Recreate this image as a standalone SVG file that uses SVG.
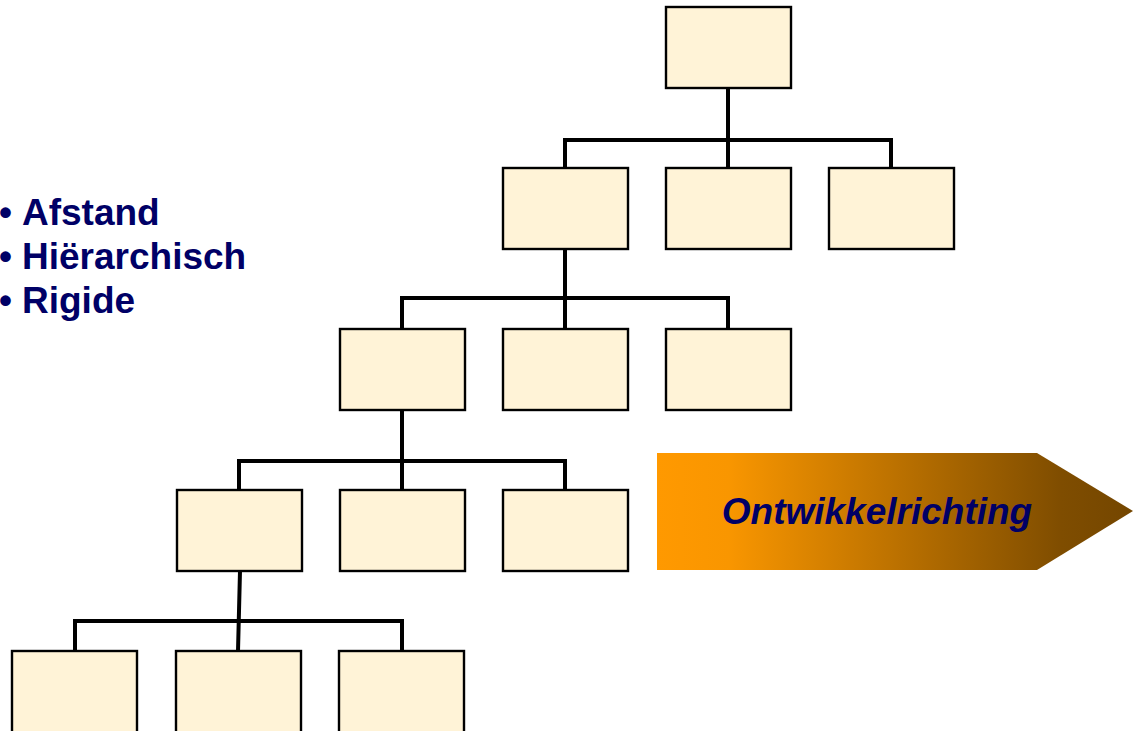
<svg xmlns="http://www.w3.org/2000/svg" width="1133" height="731" viewBox="0 0 1133 731">
<style>
.box{fill:#FFF3D7;stroke:#000;stroke-width:2.4}
.conn{fill:none;stroke:#000;stroke-width:4;stroke-linejoin:miter;stroke-linecap:butt}
.bul{font-family:"Liberation Sans",Arial,sans-serif;font-weight:bold;font-size:37px;fill:#000066}
.arrtxt{font-family:"Liberation Sans",Arial,sans-serif;font-weight:bold;font-style:italic;font-size:37px;fill:#000066}
</style>
<defs>
<linearGradient id="ag" x1="657" y1="0" x2="1133" y2="0" gradientUnits="userSpaceOnUse">
<stop offset="0" stop-color="#FF9900"/>
<stop offset="0.15" stop-color="#F99600"/>
<stop offset="0.85" stop-color="#7F4D00"/>
<stop offset="1" stop-color="#744600"/>
</linearGradient>
</defs>

<g id="connectors">
<path class="conn" d="M728,88 V168 M565,168 V140 H891 V168"/>
<path class="conn" d="M565,249 V329 M402,329 V298 H728 V329"/>
<path class="conn" d="M402,410 V490 M239,490 V461 H565 V490"/>
<path class="conn" d="M240,571 L238,651 M75,651 V621 H402 V651"/>
</g>

<g id="n1"><rect class="box" x="666" y="7" width="125" height="81"/></g>
<g id="n2a"><rect class="box" x="503" y="168" width="125" height="81"/></g>
<g id="n2b"><rect class="box" x="666" y="168" width="125" height="81"/></g>
<g id="n2c"><rect class="box" x="829" y="168" width="125" height="81"/></g>
<g id="n3a"><rect class="box" x="340" y="329" width="125" height="81"/></g>
<g id="n3b"><rect class="box" x="503" y="329" width="125" height="81"/></g>
<g id="n3c"><rect class="box" x="666" y="329" width="125" height="81"/></g>
<g id="n4a"><rect class="box" x="177" y="490" width="125" height="81"/></g>
<g id="n4b"><rect class="box" x="340" y="490" width="125" height="81"/></g>
<g id="n4c"><rect class="box" x="503" y="490" width="125" height="81"/></g>
<g id="n5a"><rect class="box" x="12" y="651" width="125" height="85"/></g>
<g id="n5b"><rect class="box" x="176" y="651" width="125" height="85"/></g>
<g id="n5c"><rect class="box" x="339" y="651" width="125" height="85"/></g>

<g id="bullets">
<text class="bul" x="-1" y="225">•</text><text class="bul" x="22" y="225">Afstand</text>
<text class="bul" x="-1" y="269">•</text><text class="bul" x="22" y="269">Hiërarchisch</text>
<text class="bul" x="-1" y="313">•</text><text class="bul" x="22" y="313">Rigide</text>
</g>

<g id="arrow">
<polygon points="657,453 1037,453 1133,511 1037,570 657,570" fill="url(#ag)"/>
<text class="arrtxt" x="877" y="524" text-anchor="middle">Ontwikkelrichting</text>
</g>
</svg>
